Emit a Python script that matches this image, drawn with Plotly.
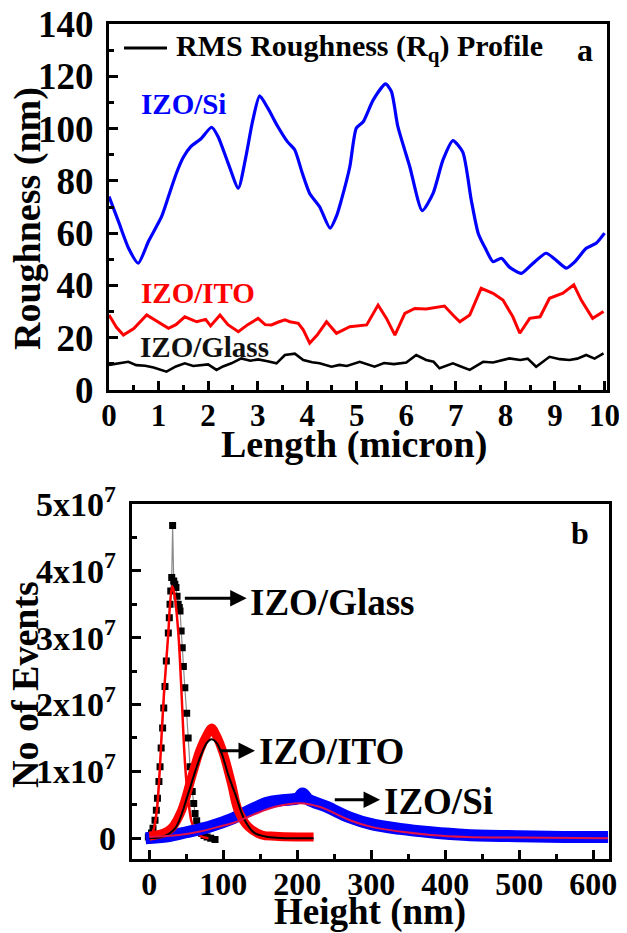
import plotly.graph_objects as go

# ---------------- Panel a: RMS roughness profiles ----------------
si_len = [0.0, 0.2, 0.4, 0.59, 0.8, 1.06, 1.2, 1.36, 1.5, 1.65, 1.85, 2.07, 2.2, 2.4, 2.61, 2.75, 2.9, 3.04,
          3.2, 3.4, 3.6, 3.75, 3.9, 4.05, 4.25, 4.46, 4.6, 4.69, 4.86, 4.99, 5.13, 5.33, 5.58, 5.7, 5.83,
          6.07, 6.32, 6.54, 6.74, 6.94, 7.14, 7.31, 7.45, 7.6, 7.75, 7.92, 8.08, 8.32, 8.52, 8.82, 9.0,
          9.23, 9.4, 9.63, 9.83, 10.0]
si_rq = [74, 64, 54, 48.5, 57, 66.3, 74, 82.9, 89, 93.1, 96, 100.5, 97, 87, 77.2, 88, 103, 112.5,
         108, 101, 95, 91.8, 83, 75.2, 70.1, 61.9, 67, 72.7, 85.4, 100.1, 102.6, 110.9, 117.1, 114.1, 100.7,
         85.4, 68.6, 75.2, 88, 95.4, 91, 72.7, 60, 54, 49.1, 50.4, 47, 44.6, 47.8, 52.3, 50,
         46.6, 49, 54.2, 56.1, 60]

ito_len = [0.0, 0.15, 0.29, 0.5, 0.76, 1.0, 1.2, 1.35, 1.53, 1.77, 1.95, 2.05, 2.24, 2.4, 2.61, 2.8, 3.01,
           3.15, 3.28, 3.42, 3.55, 3.65, 3.82, 3.92, 4.05, 4.2, 4.39, 4.59, 4.86, 5.2, 5.43, 5.6, 5.77,
           5.97, 6.17, 6.4, 6.6, 6.77, 6.95, 7.08, 7.28, 7.51, 7.75, 7.95, 8.15, 8.29, 8.49, 8.7, 8.89,
           9.16, 9.38, 9.53, 9.76, 9.98]
ito_rq = [28.7, 24, 21, 23.5, 28.7, 26, 23.6, 25, 28, 26.1, 27, 24.5, 28.7, 25, 22.3, 25, 27.4,
          25, 24.9, 26, 26.8, 26.1, 25.5, 23, 17.9, 21, 26.1, 21.7, 24.2, 24.9, 32.5, 27.4, 21,
          29.3, 31.2, 31, 31.5, 32.1, 28.5, 26.1, 28.7, 38.9, 37, 34.4, 28, 21.7, 27.4, 28, 35.1,
          37, 40.2, 34.4, 27.4, 30]

glass_len = [0.0, 0.2, 0.39, 0.55, 0.73, 0.9, 1.16, 1.35, 1.53, 1.7, 1.87, 2.0, 2.17, 2.3, 2.47, 2.67, 2.85,
             3.01, 3.2, 3.38, 3.55, 3.75, 3.92, 4.1, 4.25, 4.49, 4.65, 4.8, 5.06, 5.2, 5.36, 5.55, 5.75,
             6.0, 6.2, 6.4, 6.55, 6.67, 6.94, 7.1, 7.28, 7.55, 7.75, 8.08, 8.3, 8.45, 8.62, 8.89, 9.1,
             9.29, 9.45, 9.63, 9.8, 9.98]
glass_rq = [9.6, 10.3, 10.8, 9.5, 9.3, 8.6, 7, 9, 10.2, 9.2, 9.6, 9.8, 7.7, 9, 10.2, 12.1, 11.2,
            11.7, 11, 10.2, 13.4, 13.9, 11.5, 10.6, 10.2, 8.9, 9.6, 9.2, 10.8, 10, 8.9, 10.3, 9.9,
            10.5, 13.4, 11.5, 10.8, 8.3, 10.2, 9, 7.7, 10.8, 10.5, 12.1, 11.5, 12, 8.9, 12.7, 11.8,
            11.5, 12, 13.4, 12, 14]

# ---------------- Panel b: height distributions (units of 1e7 events) ----------------
glass_h = [-1.3, 1, 3, 5, 7.7, 9.5, 11, 13, 14.5, 16, 18, 19.5, 21.2, 23, 25.7, 27, 28, 29, 30.3, 31.5,
           33, 34.5, 36, 37.5, 39, 40.5, 41.5, 43, 44.5, 46, 48, 50.5, 52.5, 55, 58, 60, 61.8, 64, 66,
           68, 70.8, 74, 78, 83, 88.8]
glass_n = [0.02, 0.04, 0.08, 0.15, 0.27, 0.42, 0.6, 0.85, 1.07, 1.35, 1.65, 1.95, 2.27, 2.65, 3.07, 3.3,
           3.5, 3.7, 3.9, 4.68, 3.85, 3.8, 3.75, 3.62, 3.5, 3.45, 3.4, 3.1, 2.85, 2.57, 2.25, 1.87, 1.5,
           1.07, 0.7, 0.52, 0.37, 0.26, 0.18, 0.12, 0.07, 0.04, 0.02, 0.0, -0.02]
glass_fit_h = [0, 5, 10, 14, 16.7, 20, 25.7, 28, 31, 34, 39.2, 43, 46, 49, 52.7, 57, 61.8, 70, 80]
glass_fit_n = [0.02, 0.1, 0.4, 1.0, 1.57, 2.2, 3.07, 3.5, 3.77, 3.65, 3.07, 2.3, 1.57, 1.0, 0.57, 0.25,
               0.12, 0.03, 0.0]

ito_h = [0, 20, 30, 43.8, 57.3, 68.5, 78, 84.3, 90, 100, 111, 120, 134, 152, 170, 200, 222]
ito_n = [0.03, 0.08, 0.15, 0.42, 0.92, 1.32, 1.55, 1.65, 1.55, 1.27, 0.82, 0.42, 0.17, 0.05, 0.03,
         0.02, 0.02]
ito_fit_h = [0, 20, 35, 52.7, 62, 70.8, 78, 84, 90, 97.8, 106, 115.8, 129, 142, 160, 222]
ito_fit_n = [0.0, 0.03, 0.15, 0.67, 1.0, 1.27, 1.43, 1.48, 1.44, 1.27, 0.97, 0.67, 0.27, 0.08, 0.02, 0.0]

si_h = [-5, 25, 50, 80, 113.5, 140, 158.6, 180, 201, 207, 215, 239.7, 271, 300, 338.8, 380, 429, 500,
        560, 620]
si_n = [0.0, 0.03, 0.09, 0.17, 0.3, 0.44, 0.53, 0.57, 0.6, 0.67, 0.58, 0.47, 0.31, 0.21, 0.14, 0.09,
        0.05, 0.03, 0.02, 0.02]
si_fit_h = [0, 40, 68.5, 100, 113.5, 140, 170, 203.6, 230, 271, 300, 338.8, 380, 429, 500, 620]
si_fit_n = [0.02, 0.05, 0.1, 0.19, 0.23, 0.35, 0.47, 0.525, 0.47, 0.27, 0.17, 0.1, 0.05, 0.02, 0.01, 0.0]

ytick_vals_b = [0, 1, 2, 3, 4, 5]
ytick_text_b = ["0", "1x10<sup>7</sup>", "2x10<sup>7</sup>", "3x10<sup>7</sup>", "4x10<sup>7</sup>",
                "5x10<sup>7</sup>"]

BLUE = "#0000FF"
RED = "#FF0000"
BLACK = "#000000"
FONT = "Liberation Serif, Times New Roman, serif"

# the page body has an 8 px default margin: size the figure so it fits the 627x933 window
OFF = 8
W, H = 627 - OFF, 933 - OFF


def px(xpix):
    return (xpix - OFF) / W


def py(ypix):
    return 1 - (ypix - OFF) / H


fig = go.Figure()

# panel a traces
fig.add_trace(go.Scatter(x=si_len, y=si_rq, mode="lines",
                         line=dict(color=BLUE, width=3.2, shape="spline", smoothing=0.6),
                         xaxis="x", yaxis="y", showlegend=False))
fig.add_trace(go.Scatter(x=ito_len, y=ito_rq, mode="lines", line=dict(color=RED, width=3),
                         xaxis="x", yaxis="y", showlegend=False))
fig.add_trace(go.Scatter(x=glass_len, y=glass_rq, mode="lines", line=dict(color=BLACK, width=2.6),
                         xaxis="x", yaxis="y", showlegend=False))

# panel b traces
fig.add_trace(go.Scatter(x=glass_h, y=glass_n, mode="lines+markers",
                         line=dict(color="#8a8a8a", width=1.2),
                         marker=dict(symbol="square", size=7, color=BLACK),
                         xaxis="x2", yaxis="y2", showlegend=False))
fig.add_trace(go.Scatter(x=glass_fit_h, y=glass_fit_n, mode="lines",
                         line=dict(color=RED, width=2.5, shape="spline"),
                         xaxis="x2", yaxis="y2", showlegend=False))
fig.add_trace(go.Scatter(x=si_h, y=si_n, mode="lines", line=dict(color=BLUE, width=12, shape="spline"),
                         xaxis="x2", yaxis="y2", showlegend=False))
fig.add_trace(go.Scatter(x=ito_h, y=ito_n, mode="lines", line=dict(color=RED, width=9, shape="spline"),
                         xaxis="x2", yaxis="y2", showlegend=False))
fig.add_trace(go.Scatter(x=ito_fit_h, y=ito_fit_n, mode="lines",
                         line=dict(color=BLACK, width=2, shape="spline"),
                         xaxis="x2", yaxis="y2", showlegend=False))
fig.add_trace(go.Scatter(x=si_fit_h, y=si_fit_n, mode="lines",
                         line=dict(color="#E0104A", width=2, shape="spline"),
                         xaxis="x2", yaxis="y2", showlegend=False))

axis_common = dict(showgrid=False, zeroline=False, showline=True, mirror=True, linecolor=BLACK,
                   linewidth=3, ticks="inside", tickcolor=BLACK, tickwidth=2.5, ticklen=9,
                   automargin=False, ticklabeloverflow="allow")

fig.update_layout(
    template="none",
    width=W, height=H,
    margin=dict(l=0, r=0, t=0, b=0, pad=0),
    paper_bgcolor="white", plot_bgcolor="white",
    font=dict(family=FONT, color=BLACK, weight="bold"),
    xaxis=dict(domain=[px(109), px(607)], range=[0, 10.05], anchor="y", tickmode="array",
               tickvals=list(range(0, 11)), tickfont=dict(size=31, family=FONT, weight="bold"),
               ticklabelstandoff=-4,
               minor=dict(dtick=0.5, ticks="inside", ticklen=5, tickwidth=2.5, tickcolor=BLACK),
               **axis_common),
    yaxis=dict(domain=[py(390), py(24)], range=[0, 140], anchor="x", tickmode="array",
               tickvals=[0, 20, 40, 60, 80, 100, 120, 140],
               tickfont=dict(size=37, family=FONT, weight="bold"), ticklabelstandoff=5,
               minor=dict(dtick=10, ticks="inside", ticklen=5, tickwidth=2.5, tickcolor=BLACK),
               **axis_common),
    xaxis2=dict(domain=[px(131.7), px(609.3)], range=[-23.8, 621.6], anchor="y2", dtick=100,
                tickfont=dict(size=32, family=FONT, weight="bold"), ticklabelstandoff=-6,
                minor=dict(dtick=50, ticks="inside", ticklen=5, tickwidth=2.5, tickcolor=BLACK),
                **axis_common),
    yaxis2=dict(domain=[py(859.3), py(504)], range=[-0.315, 5.0], anchor="x2", tickmode="array",
                tickvals=ytick_vals_b, ticktext=ytick_text_b, ticklabelstandoff=6,
                tickfont=dict(size=34, family=FONT, weight="bold"),
                minor=dict(dtick=0.5, ticks="inside", ticklen=5, tickwidth=2.5, tickcolor=BLACK),
                **axis_common),
)


def ann(text, x, y, size, color=BLACK, xref="paper", yref="paper", angle=0, xanchor="center",
        yanchor="middle"):
    fig.add_annotation(text=text, x=x, y=y, xref=xref, yref=yref, showarrow=False,
                       textangle=angle, xanchor=xanchor, yanchor=yanchor,
                       font=dict(family=FONT, size=size, color=color, weight="bold"))


# axis titles
ann("Roughness (nm)", px(27), py(219), 38, angle=-90)
ann("Length (micron)", px(354), py(444), 38)
ann("No of Events", px(25), py(685), 38, angle=-90)
ann("Height (nm)", px(369.5), py(912), 37)

# panel letters
ann("a", px(585), py(50), 32)
ann("b", px(580), py(533), 32)

# legend of panel a
fig.add_shape(type="line", xref="paper", yref="paper", x0=px(124), x1=px(167),
              y0=py(48), y1=py(48), line=dict(color=BLACK, width=3))
ann("RMS Roughness (R<sub>q</sub>) Profile", px(174), py(48), 30, xanchor="left")

# panel a curve labels
ann("IZO/Si", 1.51, 109.4, 29, color=BLUE, xref="x", yref="y")
ann("IZO/ITO", 1.79, 37.1, 29, color=RED, xref="x", yref="y")
ann("IZO/Glass", 1.92, 16.4, 29, color="#111111", xref="x", yref="y")

# panel b arrows and labels
arrows = [("IZO/Glass", 46, 131.6, 3.59, 133.4, 3.53),
          ("IZO/ITO", 93.2, 142.8, 1.31, 145.1, 1.30),
          ("IZO/Si", 248.6, 311.8, 0.575, 314, 0.55)]
for label, x_tail, x_head, y_arr, x_text, y_text in arrows:
    fig.add_annotation(x=x_head, y=y_arr, ax=x_tail, ay=y_arr, xref="x2", yref="y2",
                       axref="x2", ayref="y2", showarrow=True, arrowhead=2, arrowsize=1.1,
                       arrowwidth=3, arrowcolor=BLACK, text="")
    ann(label, x_text, y_text, 37, xref="x2", yref="y2", xanchor="left")

fig.write_html("out.html")
